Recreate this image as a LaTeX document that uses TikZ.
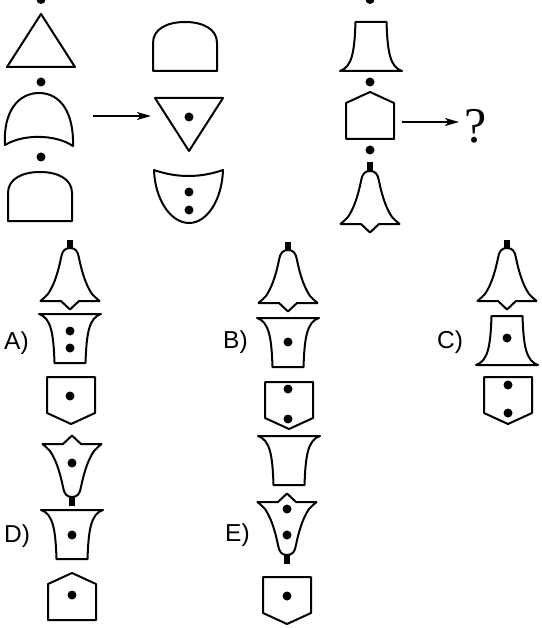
\documentclass[tikz,border=0pt]{standalone}
\usepackage{fontspec}
\newfontfamily\labelfont{Liberation Sans}
\newfontfamily\qfont{Liberation Serif}
\usetikzlibrary{arrows.meta}
\tikzset{
  shp/.style={draw=black, line width=2pt, line join=round, fill=white},
  arr/.style={line width=1.5pt, -{Stealth[length=14pt,width=8pt,inset=3.5pt]}},
  lbl/.style={font=\labelfont\fontsize{24.5}{25}\selectfont, inner sep=0pt, anchor=base west},
  bellpic/.pic={
    \fill[black] (-2.7,-8.5) rectangle (2.7,0.5);
    \draw[shp] (0,0) .. controls (5,0) and (8,3) .. (9,10)
      .. controls (11,20) and (15,36) .. (22,46)
      .. controls (25,49) and (27,51) .. (29.5,53) -- (9,53) -- (0,61.5) -- (-9,53) -- (-29.5,53)
      .. controls (-27,51) and (-25,49) .. (-22,46)
      .. controls (-15,36) and (-11,20) .. (-9,10)
      .. controls (-8,3) and (-5,0) .. (0,0) -- cycle;
  },
  skirtpic/.pic={
    \draw[shp] (-15.5,0) -- (15.5,0) .. controls (16.5,30) and (19,45) .. (31,49)
      -- (-31,49) .. controls (-19,45) and (-16.5,30) .. (-15.5,0) -- cycle;
  },
  housepic/.pic={
    \draw[shp] (0,0) -- (24,11) -- (24,47) -- (-24,47) -- (-24,11) -- cycle;
  },
  domepic/.pic={
    \draw[shp] (-32,49) -- (-32,21) .. controls (-32,7) and (-18,0) .. (0,0)
      .. controls (18,0) and (32,7) .. (32,21) -- (32,49) -- cycle;
  },
}
\newcommand{\bdot}[1]{\fill[black] #1 circle (4.5pt);}
\begin{document}
\begin{tikzpicture}[x=1pt,y=-1pt]
\fill[white] (0,0) rectangle (541,628);
\useasboundingbox (0,0) rectangle (541,628);

% ---------- example, column 1 ----------
\bdot{(41,-0.5)}
\draw[shp] (41,14) -- (75,67) -- (7,67) -- cycle;
\bdot{(41,82)}
\draw[shp] (5,145) .. controls (3,112) and (18,93) .. (39,93)
  .. controls (60,93) and (74,112) .. (73,146)
  .. controls (55,134) and (23,134) .. (5,145) -- cycle;
\bdot{(41,157)}
\pic at (40,172) {domepic};

% ---------- example, column 2 ----------
\pic at (185,22) {domepic};
\draw[shp] (155,98) -- (223,98) -- (189,151) -- cycle;
\bdot{(189,117)}
\draw[shp] (154,170) .. controls (177,178) and (200,178) .. (223,170)
  .. controls (222,200) and (207,223) .. (189,223)
  .. controls (171,223) and (155,200) .. (154,170) -- cycle;
\bdot{(189,192)}
\bdot{(189,210)}

\coordinate (a1s) at (93,116);
\coordinate (a1e) at (151,116);
\draw[arr] (a1s) -- (a1e);

% ---------- question, column 3 ----------
\bdot{(370,-0.5)}
\pic at (371,22) {skirtpic};
\bdot{(370,82)}
\pic at (370,92) {housepic};
\bdot{(370,150)}
\pic at (370,171) {bellpic};

\node[font=\qfont\fontsize{50}{50}\selectfont, inner sep=0pt, anchor=base] (q) at (476,143) {?};
\coordinate (a2s) at (402,122);
\coordinate (a2e) at (459,122);
\draw[arr] (a2s) -- (a2e);

% ---------- option A ----------
\node[lbl] (la) at (4,349) {A)};
\pic at (70,248) {bellpic};
\pic[yscale=-1] at (70,363) {skirtpic};
\bdot{(70,331)}
\bdot{(70,348)}
\pic[yscale=-1] at (71,424) {housepic};
\bdot{(70,396)}

% ---------- option B ----------
\node[lbl] (lb) at (223,348) {B)};
\pic at (288,250) {bellpic};
\pic[yscale=-1] at (288,367) {skirtpic};
\bdot{(288,342)}
\pic[yscale=-1] at (289,429) {housepic};
\bdot{(288,389)}
\bdot{(288,419)}

% ---------- option C ----------
\node[lbl] (lc) at (437,348) {C)};
\pic at (507,248) {bellpic};
\pic at (507,316) {skirtpic};
\bdot{(507,338)}
\pic[yscale=-1] at (508,424) {housepic};
\bdot{(508,385)}
\bdot{(508,413)}

% ---------- option D ----------
\node[lbl] (ld) at (4,542) {D)};
\pic[yscale=-1] at (72,497) {bellpic};
\bdot{(72,463)}
\pic[yscale=-1] at (72,559) {skirtpic};
\bdot{(72,535)}
\pic at (72,573) {housepic};
\bdot{(72,595)}

% ---------- option E ----------
\node[lbl] (le) at (225,541) {E)};
\pic[yscale=-1] at (289,485) {skirtpic};
\pic[yscale=-1] at (287,555) {bellpic};
\bdot{(287,509)}
\bdot{(287,535)}
\pic[yscale=-1] at (287,624) {housepic};
\bdot{(287,596)}
\end{tikzpicture}
\end{document}
